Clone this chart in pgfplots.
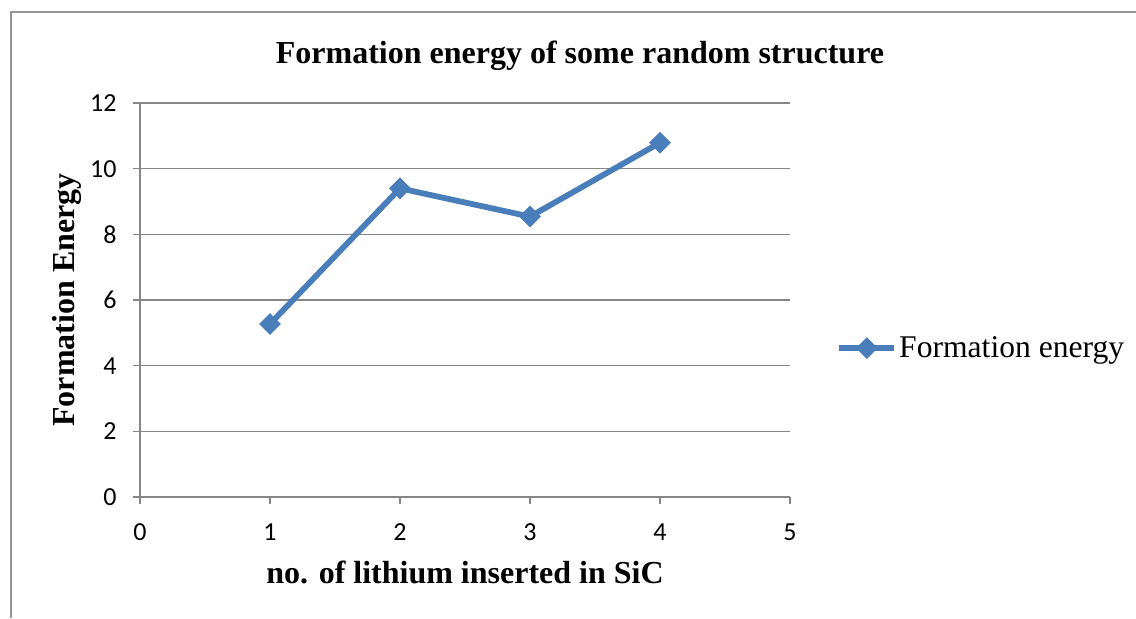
\documentclass[border=0pt]{standalone}
\usepackage{pgfplots}
\pgfplotsset{compat=1.18}
\usepackage{fontspec}
\setmainfont{Liberation Serif}
\newfontfamily\calibri{Carlito}
\definecolor{exblue}{RGB}{74,126,187}
\definecolor{exgray}{RGB}{134,134,134}
\definecolor{framegray}{RGB}{150,150,150}
\begin{document}
\begin{tikzpicture}
\path[use as bounding box] (0pt,0pt) rectangle (568pt,309pt);
\draw[framegray, line width=1pt] (5.5pt,0pt) -- (5.5pt,303pt) -- (568pt,303pt);
\node[anchor=base, font=\bfseries\fontsize{16}{18}\selectfont] at (290pt,277.5pt) {Formation energy of some random structure};
\begin{axis}[
  at={(70pt,60.5pt)}, anchor=south west,
  scale only axis, width=325pt, height=197pt,
  xmin=0, xmax=5, ymin=0, ymax=12,
  xtick={0,1,2,3,4,5}, ytick={0,2,4,6,8,10,12},
  axis x line=bottom, axis y line=left,
  axis line style={exgray, line width=0.75pt, -},
  ymajorgrids, grid style={exgray, line width=0.75pt},
  tick align=outside, major tick length=3.5pt,
  tick style={exgray, line width=0.75pt},
  /pgf/number format/assume math mode=true,
  ticklabel style={font=\calibri\fontsize{13}{15}\selectfont},
  yticklabel style={anchor=east, inner sep=0pt, xshift=-8pt},
  xticklabel style={anchor=north, inner sep=0pt, yshift=-9.5pt},
  xlabel={no. of lithium inserted in SiC},
  ylabel={Formation Energy},
  label style={font=\bfseries\fontsize{16}{18}\selectfont},
  xlabel style={at={(axis description cs:0.5,-0.2208)}, anchor=base},
  ylabel style={at={(axis description cs:-0.1,0.5)}, anchor=base, rotate=0},
  legend style={at={(1.0708,0.378)}, anchor=west, draw=none, fill=none,
    font=\fontsize{15.8}{18}\selectfont, inner sep=0pt,
    nodes={inner xsep=1pt},
    legend cell align=left},
  legend image code/.code={
    \draw[#1, mark=none] (0pt,0pt) -- (27.5pt,0pt);
    \draw[#1, only marks] plot coordinates {(13.75pt,0pt)};
  },
  clip=false,
]
\addplot[exblue, line width=2.9pt, mark=square*, mark size=3.6pt,
  mark options={rotate=45, solid, line width=0.5pt}]
  coordinates {(1,5.27) (2,9.40) (3,8.54) (4,10.79)};
\addlegendentry{Formation energy}
\end{axis}
\end{tikzpicture}
\end{document}
